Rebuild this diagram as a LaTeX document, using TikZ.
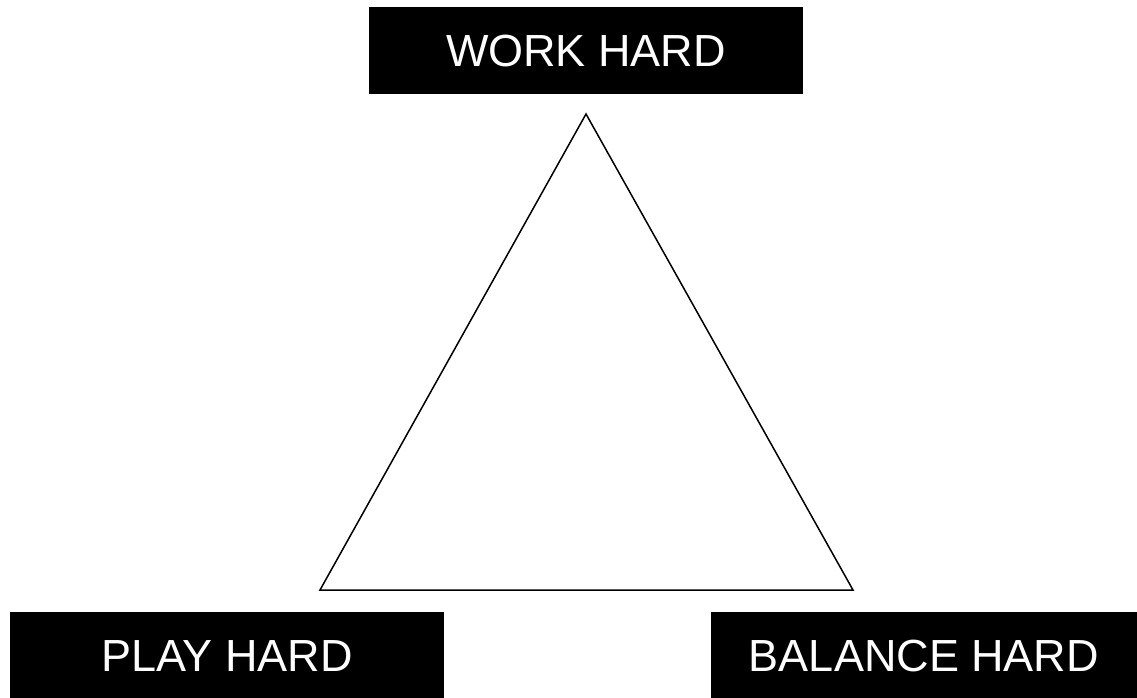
\documentclass[tikz,border=0pt]{standalone}
\usepackage{fontspec}
\setmainfont{Liberation Sans}
\begin{document}
\begin{tikzpicture}[x=1pt,y=-1pt,
  label box/.style={fill=black, text=white, inner sep=0pt, font=\fontsize{45}{50}\selectfont,
    text height=32pt, text depth=0pt, anchor=center}]
\useasboundingbox (0,0) rectangle (1137,698);
\node[label box, minimum width=434pt, minimum height=87pt] (work) at (586,50.5) {WORK HARD};
\node[label box, minimum width=434pt, minimum height=86pt] (play) at (227,655) {PLAY HARD};
\node[label box, minimum width=426pt, minimum height=86pt] (bal) at (924,655) {BALANCE HARD};
\coordinate (apex) at (586,114);
\coordinate (bl) at (320,590);
\coordinate (br) at (853,590);
\draw[line width=1.5pt, line join=miter] (apex) -- (bl) -- (br) -- cycle;
\end{tikzpicture}
\end{document}
